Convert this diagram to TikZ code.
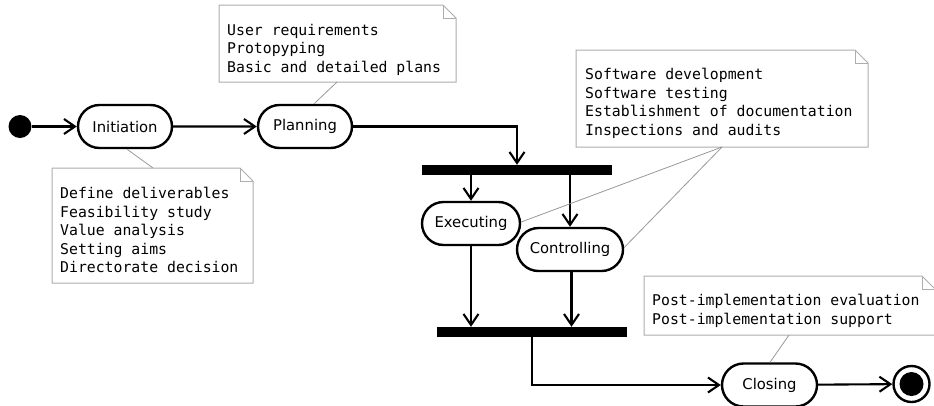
\documentclass[tikz,border=0pt]{standalone}
\usepackage{fontspec}
\setmainfont{DejaVu Sans}
\newfontfamily\notefont{DejaVu Sans Mono}
\usetikzlibrary{shapes.misc,arrows.meta}

\tikzset{
  activity/.style={rounded rectangle, draw, line width=2.4pt, fill=white,
    minimum height=43pt, inner sep=0pt, font=\fontsize{14.8}{17}\selectfont},
  bar/.style={rectangle, fill=black, minimum height=10pt, inner sep=0pt},
  flow/.style={line width=2.1pt, -{Straight Barb[length=11pt,width=15pt]}},
  notebox/.style={draw=black!32, line width=1pt, fill=white},
  noteline/.style={draw=black!40, line width=0.8pt},
  notetext/.style={anchor=north west, inner sep=0pt, align=left,
    font=\notefont\fontsize{14.8}{18.5}\selectfont},
}

% folded-corner comment box: left, top, right, bottom
\newcommand\foldnote[4]{%
  \path[notebox] (#1,#2) -- (#3-13,#2) -- (#3,#2+13) -- (#3,#4) -- (#1,#4) -- cycle;
  \draw[draw=black!32, line width=1pt] (#3-13,#2) -- (#3-13,#2+13) -- (#3,#2+13);
}

\begin{document}
\begin{tikzpicture}[x=1pt, y=-1pt]
  \useasboundingbox (0,0) rectangle (934,405);
  \fill[white] (0,0) rectangle (934,405);

  % activities
  \node[circle, fill=black, minimum size=23pt, inner sep=0pt] (start) at (20,126.5) {};
  \node[activity, minimum width=94pt] (initiation) at (125,126.5) {Initiation};
  \node[activity, minimum width=94pt] (planning) at (305,126.5) {Planning};
  \node[bar, minimum width=190pt] (fork) at (517,170) {};
  \node[activity, minimum width=98pt] (executing) at (471,223.5) {Executing};
  \node[activity, minimum width=106pt] (controlling) at (570,249.5) {Controlling};
  \node[bar, minimum width=190pt] (join) at (532,332) {};
  \node[activity, minimum width=95pt] (closing) at (769.5,385) {Closing};
  \node[circle, draw, line width=2.4pt, minimum size=36pt, inner sep=0pt] (final) at (911.5,384) {};
  \fill (final.center) circle (12pt);

  % control flow
  \draw[flow] (start) -- (initiation);
  \draw[flow] (initiation) -- (planning);
  \draw[flow] (planning) -| (fork);
  \draw[flow] (executing.north |- fork.south) -- (executing.north);
  \draw[flow] (controlling.north |- fork.south) -- (controlling.north);
  \draw[flow] (executing.south) -- (executing.south |- join.north);
  \draw[flow] ([xshift=1.5pt]controlling.south) -- ([xshift=1.5pt]controlling.south |- join.north);
  \draw[flow] (join) |- (closing);
  \draw[flow] (closing) -- (final);

  % comments
  \foldnote{52}{168}{253}{283}
  \node[notetext] (n1) at (60,187) {Define deliverables\\Feasibility study\\Value analysis\\Setting aims\\Directorate decision};
  \coordinate (n1a) at (153,168);

  \foldnote{219}{5}{456}{82}
  \node[notetext] (n2) at (227,24) {User requirements\\Protopyping\\Basic and detailed plans};
  \coordinate (n2a) at (337,82);

  \foldnote{576}{50}{868}{147}
  \node[notetext] (n3) at (585,68) {Software development\\Software testing\\Establishment of documentation\\Inspections and audits};
  \coordinate (n3a) at (722,147);

  \foldnote{644}{276}{935}{335}
  \node[notetext] (n4) at (652,294) {Post-implementation evaluation\\Post-implementation support};
  \coordinate (n4a) at (789,335);

  % comment anchors
  \draw[noteline] ([xshift=2pt]initiation.south) -- (n1a);
  \draw[noteline] ([xshift=9pt]planning.north) -- (n2a);
  \draw[noteline] ([yshift=1.5pt]executing.east) -- (n3a);
  \draw[noteline] ([yshift=2pt]controlling.east) -- (n3a);
  \draw[noteline] ([xshift=0.5pt]closing.north) -- (n4a);
\end{tikzpicture}
\end{document}
